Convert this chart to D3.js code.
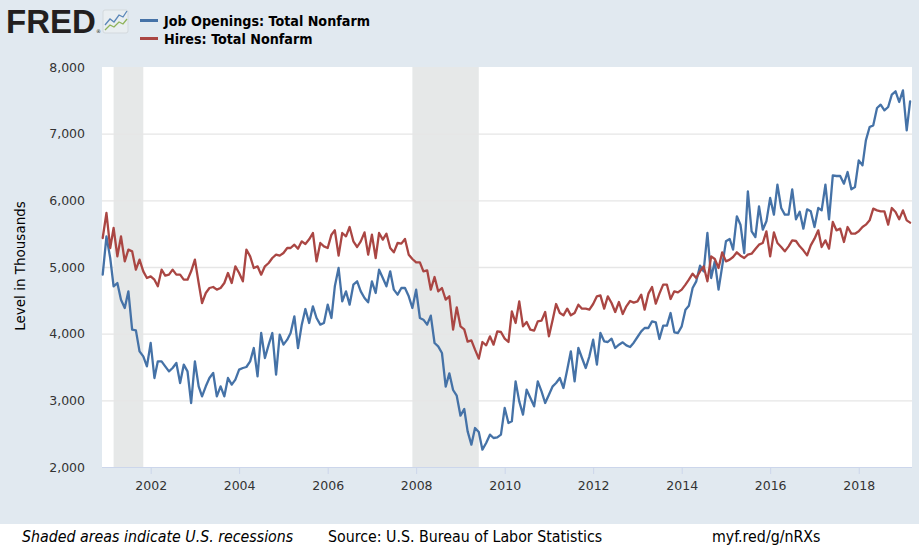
<!DOCTYPE html>
<html>
<head>
<meta charset="utf-8">
<script src="https://cdn.jsdelivr.net/npm/d3@7"></script>
<style>
  html, body { margin: 0; padding: 0; background: #e1e9f0; }
  svg { display: block; }
  text { font-family: "DejaVu Sans", Verdana, sans-serif; }
</style>
</head>
<body>
<svg id="chart" width="919" height="550"></svg>
<script>
// monthly observations, Dec 2000 .. Mar 2019 (thousands)
const firstMonth = new Date(2000, 11, 1)

const jobOpenings = [
  4885, 5460, 5135, 4710, 4760, 4510, 4385, 4635, 4060, 4050, 3735, 3660,
  3510, 3860, 3335, 3585, 3585, 3510, 3435, 3485, 3560, 3260, 3535, 3435,
  2960, 3585, 3210, 3060, 3210, 3335, 3410, 3060, 3210, 3060, 3335, 3235,
  3310, 3460, 3485, 3500, 3585, 3785, 3360, 4010, 3635, 3835, 4010, 3385,
  3985, 3835, 3910, 4010, 4260, 3785, 4135, 4370, 4160, 4410, 4235, 4135,
  4160, 4435, 4235, 4710, 4985, 4485, 4635, 4435, 4735, 4785, 4635, 4535,
  4470, 4785, 4610, 4960, 4835, 4710, 4935, 4660, 4585, 4685, 4685, 4560,
  4385, 4660, 4235, 4210, 4135, 4270, 3860, 3810, 3710, 3205, 3405, 3155,
  3070, 2770, 2870, 2535, 2335, 2585, 2525, 2260, 2360, 2485, 2435, 2445,
  2485, 2885, 2660, 2685, 3285, 2985, 2785, 3160, 3035, 2910, 3285, 3135,
  2960, 3085, 3210, 3260, 3335, 3185, 3460, 3735, 3285, 3785, 3635, 3485,
  3660, 3910, 3535, 4010, 3885, 3875, 3925, 3785, 3835, 3870, 3825, 3800,
  3865, 3950, 4035, 4085, 4085, 4185, 4170, 3920, 4120, 4120, 4310, 4020,
  4010, 4110, 4360, 4420, 4685, 4785, 5020, 4935, 5510, 4835, 5085, 4660,
  5010, 5385, 5420, 5260, 5760, 5635, 5210, 6135, 5535, 5450, 5910, 5560,
  5685, 6035, 5785, 6235, 5885, 5785, 5785, 6165, 5715, 5830, 5575, 5865,
  5835, 5600, 5885, 5850, 6235, 5715, 6375, 6365, 6365, 6250, 6425, 6165,
  6200, 6600, 6525, 6900, 7100, 7125, 7385, 7435, 7350, 7400, 7585, 7635,
  7475, 7650, 7050, 7485
]

const hires = [
  5435, 5810, 5285, 5585, 5160, 5460, 5085, 5260, 5235, 4960, 5110, 4935,
  4835, 4860, 4810, 4710, 4960, 4870, 4885, 4960, 4885, 4885, 4810, 4810,
  4935, 5110, 4760, 4460, 4610, 4685, 4700, 4660, 4685, 4760, 4910, 4760,
  5010, 4910, 4785, 5260, 5160, 4985, 5010, 4885, 5010, 5060, 5135, 5185,
  5170, 5210, 5285, 5285, 5335, 5275, 5385, 5345, 5415, 5510, 5085, 5360,
  5310, 5285, 5485, 5550, 5170, 5510, 5460, 5600, 5385, 5300, 5385, 5520,
  5185, 5485, 5135, 5510, 5410, 5500, 5285, 5220, 5360, 5350, 5420, 5185,
  5120, 5070, 5070, 4935, 4950, 4660, 4850, 4635, 4685, 4510, 4560, 4060,
  4395, 4110, 4065, 3880, 3900, 3760, 3625, 3875, 3825, 3960, 3835, 4035,
  4025, 3925, 3875, 4335, 4160, 4485, 4110, 4175, 4060, 4045, 4185, 4195,
  4325, 3960, 4210, 4445, 4310, 4275, 4375, 4275, 4310, 4435, 4375, 4375,
  4360, 4445, 4560, 4575, 4375, 4560, 4460, 4325, 4475, 4295, 4410, 4490,
  4465, 4485, 4585, 4360, 4600, 4700, 4450, 4600, 4735, 4735, 4520, 4635,
  4620, 4660, 4735, 4810, 4900, 4835, 4935, 5010, 4785, 5160, 5120, 4985,
  5220, 5085, 5110, 5150, 5220, 5170, 5135, 5185, 5200, 5270, 5335, 5360,
  5535, 5160, 5520, 5360, 5300, 5235, 5310, 5400, 5390, 5310, 5250, 5175,
  5325, 5425, 5550, 5300, 5400, 5275, 5675, 5550, 5575, 5375, 5600, 5500,
  5500, 5535, 5600, 5635, 5700, 5875, 5850, 5835, 5835, 5635, 5885, 5825,
  5715, 5850, 5700, 5665
]

const recessions = [
  ['2001-03-01', '2001-11-01'],
  ['2007-12-01', '2009-06-01']
]

const yTicks = [2000, 3000, 4000, 5000, 6000, 7000, 8000]
const xTickYears = [2002, 2004, 2006, 2008, 2010, 2012, 2014, 2016, 2018]

const series = [
  { name: 'Job Openings: Total Nonfarm', values: jobOpenings, color: '#4572a7' },
  { name: 'Hires: Total Nonfarm', values: hires, color: '#aa4643' }
]

const svg = d3.select('#chart')
const plotLeft = 102.7, plotRight = 910.1, plotTop = 67, plotBottom = 467
const parse = d3.timeParse('%Y-%m-%d')

const x = d3.scaleTime()
  .domain([firstMonth, d3.timeMonth.offset(firstMonth, jobOpenings.length - 1)])
  .range([plotLeft, plotRight])
const y = d3.scaleLinear().domain([2000, 8000]).range([plotBottom, plotTop])

// plot background
svg.append('rect')
  .attr('x', 102).attr('y', plotTop)
  .attr('width', 912 - 102).attr('height', plotBottom - plotTop)
  .attr('fill', '#ffffff')

// recession shading
svg.selectAll('rect.rec')
  .data(recessions)
  .enter()
  .append('rect')
  .attr('class', 'rec')
  .attr('x', d => x(parse(d[0])))
  .attr('width', d => x(parse(d[1])) - x(parse(d[0])))
  .attr('y', plotTop)
  .attr('height', plotBottom - plotTop)
  .attr('fill', '#e6e8e8')

// grid + y labels
const yAxis = d3.axisLeft(y)
  .tickValues(yTicks)
  .tickSize(-(912 - 102))
  .tickPadding(17)
  .tickFormat(d3.format(','))
const gy = svg.append('g')
  .attr('transform', 'translate(102,0)')
  .call(yAxis)
gy.select('.domain').remove()
gy.selectAll('.tick line')
  .attr('stroke', '#e6e6e6')
  .attr('stroke-width', 1.3)
  .attr('opacity', d => (d === 2000 || d === 8000) ? 0 : 1)
gy.selectAll('.tick text')
  .attr('fill', '#333')
  .style('font-size', '12.5px')
  .attr('dy', '0.32em')

// x axis
const xAxis = d3.axisBottom(x)
  .tickValues(xTickYears.map(yr => new Date(yr, 0, 1)))
  .tickSize(7)
  .tickPadding(7)
  .tickFormat(d3.timeFormat('%Y'))
const gx = svg.append('g')
  .attr('transform', `translate(0,${plotBottom})`)
  .call(xAxis)
gx.select('.domain')
  .attr('d', `M102,0.5H912`)
  .attr('stroke', '#ccd6eb')
gx.selectAll('.tick line').attr('stroke', '#ccd6eb')
gx.selectAll('.tick text')
  .attr('fill', '#333')
  .style('font-size', '12.5px')

// lines
const line = d3.line()
  .x((d, i) => x(d3.timeMonth.offset(firstMonth, i)))
  .y(d => y(d))

svg.selectAll('path.series')
  .data(series)
  .enter()
  .append('path')
  .attr('class', 'series')
  .attr('d', d => line(d.values))
  .attr('fill', 'none')
  .attr('stroke', d => d.color)
  .attr('stroke-width', 2.3)
  .attr('stroke-linejoin', 'round')
  .attr('stroke-linecap', 'round')

// y title
svg.append('text')
  .attr('transform', 'translate(25,266) rotate(-90)')
  .attr('text-anchor', 'middle')
  .attr('fill', '#000')
  .style('font-size', '13.5px')
  .text('Level in Thousands')

// header: logo
const logo = svg.append('g')
logo.append('text')
  .attr('x', 6).attr('y', 33)
  .style('font-family', '"Liberation Sans", Arial, sans-serif')
  .style('font-weight', 'bold')
  .style('font-size', '33px')
  .attr('fill', '#231f20')
  .text('FRED')
logo.append('text')
  .attr('x', 96).attr('y', 33)
  .style('font-size', '5px')
  .attr('fill', '#231f20')
  .text('®')
logo.append('rect')
  .attr('x', 103).attr('y', 10).attr('width', 25).attr('height', 23)
  .attr('rx', 2)
  .attr('fill', '#e9eef1').attr('stroke', '#d3d9dd')
logo.append('polyline')
  .attr('points', '105,25 110,19 114,22 119,15 123,17 127,11')
  .attr('fill', 'none').attr('stroke', '#5b87b8').attr('stroke-width', 1.3)
logo.append('polyline')
  .attr('points', '105,30 110,25 114,27 119,22 123,24 127,19')
  .attr('fill', 'none').attr('stroke', '#8fb35a').attr('stroke-width', 1.3)

// legend
const legend = svg.selectAll('g.leg')
  .data(series)
  .enter()
  .append('g')
  .attr('class', 'leg')
  .attr('transform', (d, i) => `translate(0,${20.5 + i * 18})`)
legend.append('line')
  .attr('x1', 140).attr('x2', 158)
  .attr('stroke', d => d.color)
  .attr('stroke-width', 3)
legend.append('text')
  .attr('x', 164).attr('y', 5.5)
  .style('font-size', '14.2px')
  .style('font-weight', 'bold')
  .style('font-stretch', 'condensed')
  .attr('fill', '#000')
  .text(d => d.name)

// footer
svg.append('rect')
  .attr('x', 0).attr('y', 524).attr('width', 919).attr('height', 26)
  .attr('fill', '#ffffff')
const foot = [
  { t: 'Shaded areas indicate U.S. recessions', x: 22, italic: true },
  { t: 'Source: U.S. Bureau of Labor Statistics', x: 328, italic: false },
  { t: 'myf.red/g/nRXs', x: 712, italic: false }
]
svg.selectAll('text.foot')
  .data(foot)
  .enter()
  .append('text')
  .attr('class', 'foot')
  .attr('x', d => d.x).attr('y', 542)
  .style('font-size', '15.8px')
  .style('font-stretch', 'condensed')
  .style('font-style', d => d.italic ? 'italic' : 'normal')
  .attr('fill', '#000')
  .text(d => d.t)
</script>
</body>
</html>
